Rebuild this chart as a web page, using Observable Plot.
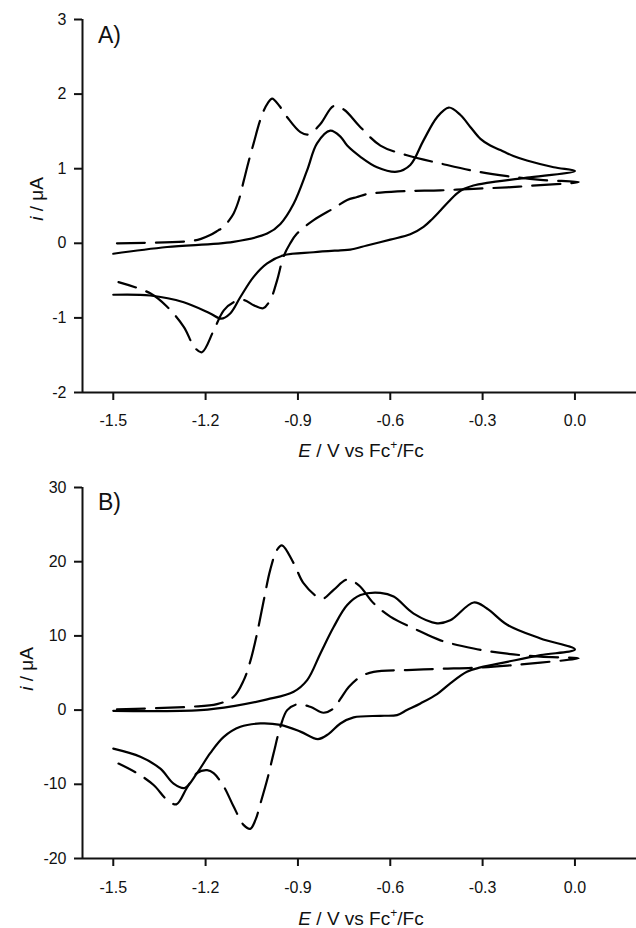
<!DOCTYPE html>
<html><head><meta charset="utf-8">
<script src="https://cdn.jsdelivr.net/npm/d3@7"></script>
<script src="https://cdn.jsdelivr.net/npm/@observablehq/plot@0.6"></script>
<style>
  html,body{margin:0;padding:0;background:#fff}
  #chart{width:636px;height:928px;overflow:hidden}
  #chart svg{display:block}
</style>
</head><body><div id="chart"></div>
<script>
// ---- shared tick labels ----
const xTicks = [-1.5, -1.2, -0.9, -0.6, -0.3, 0.0];
const aYTicks = [-2, -1, 0, 1, 2, 3];
const bYTicks = [-20, -10, 0, 10, 20, 30];
const panelLabels = ["A)", "B)"];

// ---- Panel A, solid curve (E / V, i / uA) ----
const aSolidE = [-1.50,-1.325,-1.11,-1.00,-0.957,-0.914,-0.870,-0.838,-0.795,-0.762,-0.740,-0.697,-0.643,-0.578,-0.535,-0.492,-0.448,-0.410,-0.372,-0.340,-0.307,-0.275,-0.242,-0.200,-0.156,-0.069,0.0,
  -0.156,-0.286,-0.330,-0.360,-0.383,-0.410,-0.437,-0.465,-0.492,-0.535,-0.600,-0.676,-0.730,-0.762,-0.849,-0.947,-1.000,-1.044,-1.087,-1.120,-1.150,-1.185,-1.271,-1.380,-1.500];
const aSolidI = [-0.14,-0.05,0.02,0.13,0.26,0.53,0.98,1.34,1.51,1.43,1.31,1.16,1.02,0.96,1.05,1.38,1.69,1.82,1.72,1.56,1.40,1.31,1.25,1.17,1.11,1.02,0.97,
  0.88,0.81,0.775,0.73,0.67,0.56,0.44,0.32,0.22,0.12,0.05,-0.03,-0.085,-0.094,-0.12,-0.16,-0.27,-0.45,-0.72,-0.94,-1.01,-0.94,-0.79,-0.70,-0.69];

// ---- Panel A, dashed curve ----
const aDashE = [-1.488,-1.25,-1.215,-1.185,-1.160,-1.141,-1.125,-1.109,-1.092,-1.076,-1.060,-1.044,-1.025,-1.011,-0.998,-0.984,-0.960,-0.935,-0.892,-0.865,-0.827,-0.784,-0.750,-0.700,-0.632,-0.546,-0.437,-0.329,-0.220,-0.112,0.012,
  -0.112,-0.220,-0.329,-0.437,-0.546,-0.632,-0.676,-0.708,-0.740,-0.784,-0.849,-0.903,-0.925,-0.947,-0.968,-0.990,-1.013,-1.044,-1.076,-1.109,-1.141,-1.174,-1.212,-1.235,-1.271,-1.325,-1.380,-1.483];
const aDashI = [0.00,0.03,0.06,0.11,0.17,0.22,0.30,0.40,0.58,0.84,1.10,1.34,1.62,1.78,1.88,1.94,1.84,1.69,1.49,1.46,1.60,1.84,1.79,1.57,1.31,1.18,1.07,0.97,0.90,0.85,0.82,
  0.78,0.75,0.73,0.71,0.70,0.68,0.66,0.62,0.58,0.47,0.31,0.13,0.00,-0.18,-0.50,-0.76,-0.87,-0.83,-0.76,-0.79,-0.90,-1.17,-1.46,-1.40,-1.12,-0.85,-0.67,-0.52];

// ---- Panel B, solid curve ----
const bSolidE = [-1.50,-1.217,-1.109,-1.00,-0.914,-0.870,-0.827,-0.784,-0.740,-0.697,-0.632,-0.589,-0.524,-0.448,-0.405,-0.329,-0.286,-0.220,-0.112,0.0,
  -0.112,-0.220,-0.307,-0.351,-0.405,-0.448,-0.502,-0.546,-0.578,-0.632,-0.719,-0.762,-0.800,-0.835,-0.892,-0.957,-1.022,-1.087,-1.141,-1.185,-1.228,-1.268,-1.304,-1.347,-1.412,-1.500];
const bSolidI = [-0.10,0.0,0.54,1.44,2.47,4.04,7.64,11.2,14.15,15.5,15.8,15.3,13.0,11.7,12.1,14.5,13.7,11.5,9.66,8.18,
  7.4,6.5,5.75,5.16,3.6,2.16,0.9,0.0,-0.67,-0.77,-0.98,-1.8,-3.2,-3.9,-2.9,-2.0,-1.8,-2.25,-3.6,-5.8,-8.5,-10.5,-9.9,-7.9,-6.3,-5.2];

// ---- Panel B, dashed curve ----
const bDashE = [-1.488,-1.25,-1.163,-1.109,-1.076,-1.054,-1.033,-1.011,-0.990,-0.968,-0.952,-0.914,-0.882,-0.838,-0.817,-0.784,-0.740,-0.703,-0.654,-0.600,-0.513,-0.437,-0.329,-0.220,-0.112,0.012,
  -0.112,-0.220,-0.329,-0.437,-0.546,-0.654,-0.697,-0.735,-0.762,-0.784,-0.817,-0.860,-0.903,-0.935,-0.957,-0.979,-1.000,-1.022,-1.038,-1.055,-1.076,-1.109,-1.141,-1.174,-1.195,-1.228,-1.261,-1.295,-1.325,-1.369,-1.423,-1.483];
const bDashI = [0.1,0.45,0.8,1.8,4.04,6.7,10.3,14.8,18.9,21.6,22.2,19.8,17.1,15.3,15.05,16.2,17.6,16.85,14.4,12.6,10.8,9.4,8.3,7.6,7.2,6.97,
  6.4,6.0,5.7,5.57,5.4,5.16,4.5,3.1,1.5,0.23,-0.36,0.45,0.77,0.0,-2.25,-5.8,-9.4,-12.6,-14.8,-16.0,-15.5,-13.0,-10.3,-8.5,-8.1,-8.5,-10.5,-12.7,-12.1,-10.1,-8.5,-7.2];

const FONT = "'Liberation Sans', Arial, Helvetica, sans-serif";

function toRows(E, I) { return E.map((e, k) => ({E: e, I: I[k]})); }

function panel(o) {
  const solid = toRows(o.solidE, o.solidI);
  const dash = toRows(o.dashE, o.dashI);
  const svg = Plot.plot({
    width: 636, height: 464,
    marginLeft: 82, marginRight: 0, marginTop: o.marginTop, marginBottom: o.marginBottom,
    style: {fontFamily: FONT, fontSize: "16px", background: "#fff", color: "#111"},
    x: {domain: [-1.6, 0.2]},
    y: {domain: o.yDomain},
    marks: [
      Plot.axisX({ticks: xTicks, tickSize: 8, tickPadding: o.xPad, tickFormat: d => d.toFixed(1), label: null, strokeWidth: 2, fontSize: 16}),
      Plot.axisY({ticks: o.yTicks, tickSize: 8, tickPadding: 8, tickFormat: d => String(d), label: null, strokeWidth: 2, fontSize: 16}),
      Plot.ruleX([-1.6], {stroke: "#111", strokeWidth: 2}),
      Plot.ruleY([o.yDomain[0]], {stroke: "#111", strokeWidth: 2}),
      Plot.line(solid, {x: "E", y: "I", curve: "catmull-rom", stroke: "#000", strokeWidth: 2.2}),
      Plot.line(dash, {x: "E", y: "I", curve: "catmull-rom", stroke: "#000", strokeWidth: 2.2, strokeDasharray: "28,11"})
    ]
  });
  const s = d3.select(svg);
  // panel label
  s.append("text").attr("x", 98).attr("y", o.labelY).attr("font-size", 23).attr("text-anchor", "start")
    .attr("font-family", FONT).attr("fill", "#111").text(o.label);
  // y title
  const yt = s.append("text").attr("transform", `translate(${o.yTitleX},${o.yTitleY}) rotate(-90)`)
    .attr("text-anchor", "middle").attr("font-size", 19).attr("font-family", FONT).attr("fill", "#111");
  yt.append("tspan").attr("font-style", "italic").text("i");
  yt.append("tspan").text(" / μA");
  // x title
  const xt = s.append("text").attr("x", 361).attr("y", o.xTitleY)
    .attr("text-anchor", "middle").attr("font-size", 19).attr("font-family", FONT).attr("fill", "#111");
  xt.append("tspan").attr("font-style", "italic").text("E");
  xt.append("tspan").text(" / V vs Fc");
  xt.append("tspan").attr("font-size", 12).attr("dy", -8).text("+");
  xt.append("tspan").attr("dy", 8).text("/Fc");
  return svg;
}

const chart = document.getElementById("chart");
chart.append(panel({solidE: aSolidE, solidI: aSolidI, dashE: aDashE, dashI: aDashI,
  yDomain: [-2, 3], yTicks: aYTicks, marginTop: 19, marginBottom: 72, xPad: 14,
  label: panelLabels[0], labelY: 43, yTitleX: 43, yTitleY: 199, xTitleY: 457}));
chart.append(panel({solidE: bSolidE, solidI: bSolidI, dashE: bDashE, dashI: bDashI,
  yDomain: [-20, 30], yTicks: bYTicks, marginTop: 23, marginBottom: 70, xPad: 15,
  label: panelLabels[1], labelY: 46, yTitleX: 33, yTitleY: 205, xTitleY: 461}));
</script></body></html>
